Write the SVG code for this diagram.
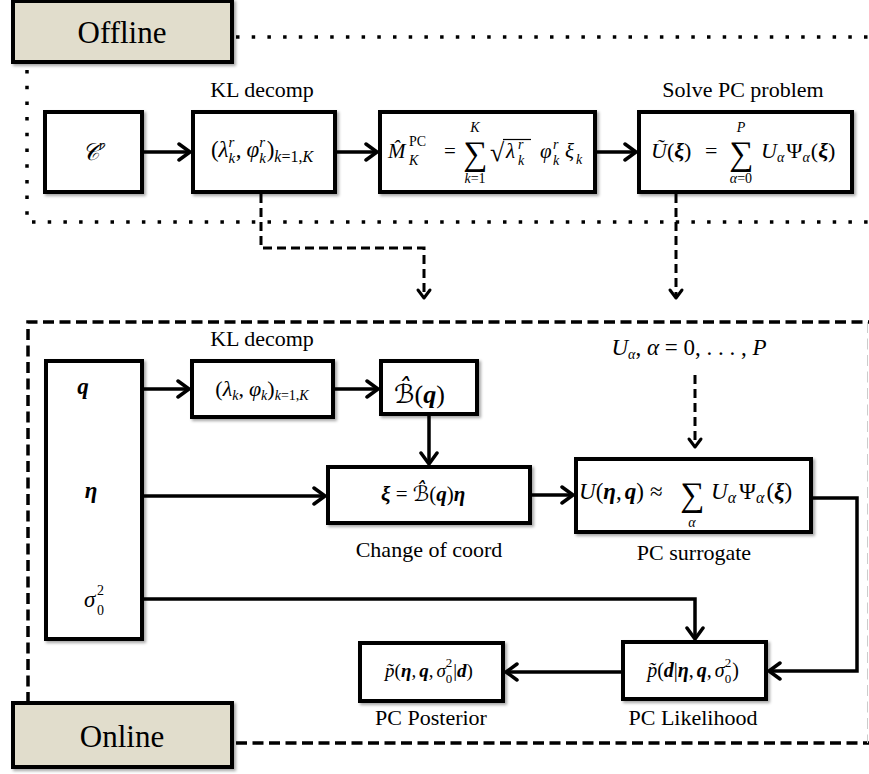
<svg xmlns="http://www.w3.org/2000/svg" width="869" height="774" viewBox="0 0 869 774">
<style>
.box{fill:#fff;stroke:#000;stroke-width:4;filter:url(#sh)}
.tag{fill:#e1ddcc;stroke:#000;stroke-width:4;filter:url(#sh)}
text{font-family:"Liberation Serif","DejaVu Serif","DejaVu Sans",serif;fill:#000}
.i{font-style:italic}
.bi{font-style:italic;font-weight:bold}
.s{font-size:14px}
.sm{font-size:16px}
.sx{font-size:15px}
.ss{font-size:14px}
.st{font-size:13px}
.lbl{font-size:22px}
.arr{fill:none;stroke:#000;stroke-width:3.5;marker-end:url(#ah)}
.darr{fill:none;stroke:#000;stroke-width:3;stroke-dasharray:9 5;marker-end:url(#dah)}
.dot{fill:none;stroke:#000;stroke-width:3.5;stroke-dasharray:3.5 12.2}
.dash{fill:none;stroke:#000;stroke-width:3.5;stroke-dasharray:11 5.5}
</style>
<defs>
<filter id="sh" x="-10%" y="-10%" width="130%" height="130%">
<feDropShadow dx="2" dy="2" stdDeviation="1.5" flood-color="#000" flood-opacity="0.35"/>
</filter>
<marker id="ah" markerUnits="userSpaceOnUse" viewBox="-15 -10 20 20" markerWidth="20" markerHeight="20" refX="0" refY="0" orient="auto">
<path d="M-11,-8 L0,0 L-11,8" fill="none" stroke="#000" stroke-width="3.5" stroke-linecap="round" stroke-linejoin="round"/>
</marker>
<marker id="dah" markerUnits="userSpaceOnUse" viewBox="-15 -10 20 20" markerWidth="20" markerHeight="20" refX="0" refY="0" orient="auto">
<path d="M-8,-6 L0,0 L-8,6" fill="none" stroke="#000" stroke-width="3" stroke-linecap="round" stroke-linejoin="round"/>
</marker>
</defs>
<rect width="869" height="774" fill="#fff"/>

<g id="frames">
<path class="dot" d="M236,37 H869"/>
<path class="dot" d="M27,70 V222 H869"/>
<path class="dash" d="M28,703 V322 H869"/>
<path class="dash" d="M236,743 H869"/>
<line x1="867.5" y1="322" x2="867.5" y2="743" stroke="#ccc" stroke-width="1" stroke-dasharray="11 5.5"/>
</g>

<g id="offline">
<rect class="tag" x="13" y="1" width="219" height="61"/>
<text x="122" y="43" font-size="31" text-anchor="middle">Offline</text>
</g>
<g id="online">
<rect class="tag" x="13" y="703" width="219" height="64"/>
<text x="122" y="747" font-size="31" text-anchor="middle">Online</text>
</g>

<g id="connectors">
<path class="arr" d="M142,152 H190"/>
<path class="arr" d="M335,152 H377"/>
<path class="arr" d="M595,152 H636"/>
<path class="darr" d="M261,194 V248 H424 V298"/>
<path class="darr" d="M676,194 V298"/>
<path class="arr" d="M142,389 H189"/>
<path class="arr" d="M333,389 H378"/>
<path class="arr" d="M429,415 V464"/>
<path class="arr" d="M142,496 H325"/>
<path class="arr" d="M530,495 H573"/>
<path class="darr" d="M695,375 V447"/>
<path class="arr" d="M142,599 H695 V639"/>
<path class="arr" d="M811,498 H857 V671 H769"/>
<path class="arr" d="M623,672 H506"/>
</g>

<g id="n-Cr">
<rect class="box" x="45" y="112" width="97" height="80"/>
<text x="93" y="160" font-size="24" text-anchor="middle"><tspan class="i">𝒞</tspan><tspan class="i s" dy="-10">r</tspan></text>
</g>

<g id="n-KL1">
<text class="lbl" x="262" y="97" text-anchor="middle">KL decomp</text>
<rect class="box" x="193" y="112" width="142" height="80"/>
<text x="262" y="157" font-size="23" text-anchor="middle">(<tspan class="i">λ</tspan><tspan class="i sx" dy="6">k</tspan><tspan class="i sx" dx="-6.7" dy="-16">r</tspan><tspan dx="1.5" dy="10">,</tspan><tspan class="i" dx="5">φ</tspan><tspan class="i sx" dy="6">k</tspan><tspan class="i sx" dx="-6.7" dy="-16">r</tspan><tspan dx="1.5" dy="10">)</tspan><tspan class="sm" dy="5"><tspan class="i">k</tspan>=1,<tspan class="i">K</tspan></tspan></text>
</g>

<g id="n-M">
<rect class="box" x="380" y="112" width="215" height="80"/>
<text class="i" x="388" y="158" font-size="21">M̂</text>
<text class="i s" x="409" y="165">K</text>
<text class="s" x="409" y="146">PC</text>
<text x="444" y="158" font-size="21">=</text>
<text x="475" y="165" font-size="34" text-anchor="middle">∑</text>
<text class="i s" x="475" y="132" text-anchor="middle">K</text>
<text class="s" x="475" y="183" text-anchor="middle"><tspan class="i">k</tspan>=1</text>
<text x="490" y="161" font-size="26">√</text>
<line x1="503" y1="139.5" x2="531" y2="139.5" stroke="#000" stroke-width="1.2"/>
<text class="i" x="506" y="158" font-size="21">λ</text>
<text class="i s" x="518" y="165">k</text>
<text class="i s" x="518" y="149">r</text>
<text class="i" x="540" y="158" font-size="21">φ</text>
<text class="i s" x="553" y="165">k</text>
<text class="i s" x="553" y="149">r</text>
<text class="i" x="565" y="158" font-size="21">ξ</text>
<text class="i s" x="576" y="164">k</text>
</g>

<g id="n-U">
<text class="lbl" x="743" y="97" text-anchor="middle">Solve PC problem</text>
<rect class="box" x="639" y="112" width="213" height="80"/>
<text x="651" y="158" font-size="22"><tspan class="i">Ũ</tspan>(<tspan class="bi">ξ</tspan>)</text>
<text x="705" y="158" font-size="22">=</text>
<text x="741" y="165" font-size="34" text-anchor="middle">∑</text>
<text class="i s" x="741" y="132" text-anchor="middle">P</text>
<text class="s" x="741" y="183" text-anchor="middle"><tspan class="i">α</tspan>=0</text>
<text x="761" y="158" font-size="22"><tspan class="i">U</tspan><tspan class="i s" dy="4">α</tspan><tspan dy="-4" dx="2">Ψ</tspan><tspan class="i s" dy="4">α</tspan><tspan dy="-4" dx="1">(</tspan><tspan class="bi">ξ</tspan>)</text>
</g>

<g id="n-inputs">
<rect class="box" x="46" y="361" width="96" height="278"/>
<text class="bi" x="83" y="394" font-size="23" text-anchor="middle">q</text>
<text class="bi" x="91" y="498" font-size="23" text-anchor="middle">η</text>
<text class="i" x="84" y="607" font-size="23">σ</text>
<text class="s" x="97" y="595">2</text>
<text class="s" x="97" y="615">0</text>
</g>

<g id="n-KL2">
<text class="lbl" x="262" y="346" text-anchor="middle">KL decomp</text>
<rect class="box" x="192" y="361" width="141" height="56"/>
<text x="262" y="396" font-size="22" text-anchor="middle">(<tspan class="i">λ</tspan><tspan class="i ss" dy="4">k</tspan><tspan dy="-4">,</tspan><tspan class="i" dx="5">φ</tspan><tspan class="i ss" dy="4">k</tspan><tspan dy="-4">)</tspan><tspan class="ss" dy="4"><tspan class="i">k</tspan>=1,<tspan class="i">K</tspan></tspan></text>
</g>

<g id="n-B">
<rect class="box" x="381" y="361" width="96" height="53"/>
<text x="394" y="403" font-size="26"><tspan class="i">ℬ̂</tspan>(<tspan class="bi">q</tspan>)</text>
</g>

<g id="n-xi">
<rect class="box" x="328" y="467" width="202" height="56"/>
<text x="381" y="501" font-size="21"><tspan class="bi">ξ</tspan> = <tspan class="i">ℬ̂</tspan>(<tspan class="bi">q</tspan>)<tspan class="bi">η</tspan></text>
<text class="lbl" x="429" y="557" text-anchor="middle">Change of coord</text>
</g>

<g id="n-Us">
<text x="689" y="355" font-size="23" text-anchor="middle"><tspan class="i">U</tspan><tspan class="i s" dy="4">α</tspan><tspan dy="-4">, </tspan><tspan class="i">α</tspan> = 0, . . . , <tspan class="i">P</tspan></text>
<rect class="box" x="576" y="459" width="235" height="73"/>
<text x="579" y="499" font-size="23"><tspan class="i">U</tspan>(<tspan class="bi">η</tspan>,<tspan class="bi" dx="3">q</tspan>)</text>
<text x="650" y="499" font-size="23">≈</text>
<text x="692" y="506" font-size="34" text-anchor="middle">∑</text>
<text class="i s" x="692" y="527" text-anchor="middle">α</text>
<text x="711" y="499" font-size="23"><tspan class="i">U</tspan><tspan class="i sm" dy="4">α</tspan><tspan dy="-4" dx="3">Ψ</tspan><tspan class="i sm" dy="4">α</tspan><tspan dy="-4" dx="2">(</tspan><tspan class="bi">ξ</tspan>)</text>
<text class="lbl" x="694" y="560" text-anchor="middle">PC surrogate</text>
</g>

<g id="n-post">
<rect class="box" x="360" y="643" width="143" height="58"/>
<text x="429" y="677" font-size="19" text-anchor="middle"><tspan class="i">p̃</tspan>(<tspan class="bi">η</tspan>,<tspan class="bi" dx="3">q</tspan>,<tspan class="i" dx="3">σ</tspan><tspan class="st" dy="6">0</tspan><tspan class="st" dx="-6.5" dy="-16">2</tspan><tspan dx="1" dy="10">|</tspan><tspan class="bi">d</tspan>)</text>
<text class="lbl" x="431" y="725" text-anchor="middle">PC Posterior</text>
</g>

<g id="n-lik">
<rect class="box" x="623" y="642" width="143" height="57"/>
<text x="693" y="677" font-size="20" text-anchor="middle"><tspan class="i">p̃</tspan>(<tspan class="bi">d</tspan>|<tspan class="bi">η</tspan>,<tspan class="bi" dx="3">q</tspan>,<tspan class="i" dx="3">σ</tspan><tspan class="st" dy="6">0</tspan><tspan class="st" dx="-6.5" dy="-16">2</tspan><tspan dx="1" dy="10">)</tspan></text>
<text class="lbl" x="693" y="725" text-anchor="middle">PC Likelihood</text>
</g>
</svg>
